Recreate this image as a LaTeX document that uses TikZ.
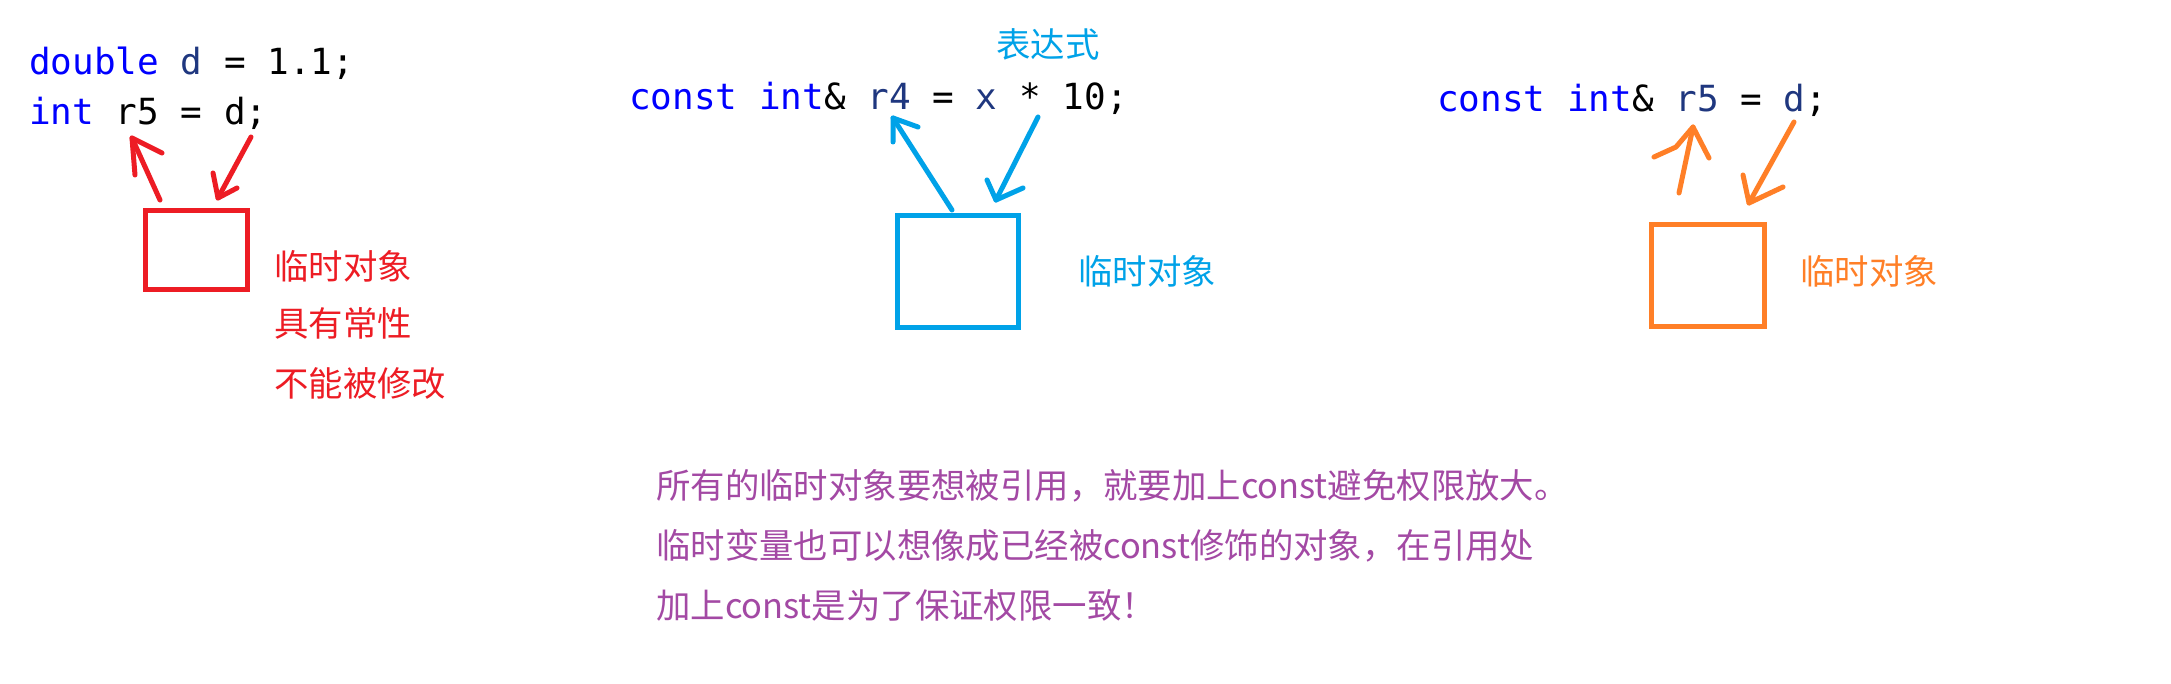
\documentclass[tikz,border=0pt]{standalone}
\usepackage{fontspec}
\setmonofont{DejaVu Sans Mono}
\newfontfamily\cjk{Noto Sans CJK SC}
\definecolor{kw}{HTML}{0000FF}
\definecolor{idc}{HTML}{1F377F}
\definecolor{redc}{HTML}{ED1C24}
\definecolor{bluec}{HTML}{00A2E8}
\definecolor{orangec}{HTML}{FF7F27}
\definecolor{purplec}{HTML}{A349A4}
\tikzset{
  code/.style={anchor=base west,inner sep=0pt,font=\ttfamily\fontsize{36}{40}\selectfont},
  lbl/.style={anchor=base west,inner sep=0pt,font=\cjk\fontsize{34.4}{40}\selectfont},
  tmpbox/.style={draw,line width=5pt,inner sep=0pt,outer sep=0pt},
  hand/.style={line width=5pt,line cap=round,line join=round},
}
\begin{document}
\begin{tikzpicture}[x=1pt,y=-1pt]
\useasboundingbox[fill=white] (0,0) rectangle (2171,684);
% left group
\node[code] (c1) at (29,75) {\textcolor{kw}{double} \textcolor{idc}{d} = 1.1;};
\node[code] (c2) at (29,125) {\textcolor{kw}{int} r5 = d;};
\node[tmpbox,redc,minimum width=102pt,minimum height=79pt] (rbox) at (196.5,250) {};
\node[lbl,text=redc] (rl1) at (274,280) {临时对象};
\node[lbl,text=redc] (rl2) at (274,337) {具有常性};
\node[lbl,text=redc] (rl3) at (274,396) {不能被修改};
\coordinate (ra1s) at (160,200); \coordinate (ra1t) at (132,138);
\coordinate (ra1a) at (135,175); \coordinate (ra1b) at (162,153);
\coordinate (ra2s) at (251,137); \coordinate (ra2t) at (218,198);
\coordinate (ra2a) at (213,173); \coordinate (ra2b) at (237,188);
\draw[hand,redc] (ra1s) -- (ra1t);
\draw[hand,redc] (ra1a) -- (ra1t) -- (ra1b);
\draw[hand,redc] (ra2s) -- (ra2t);
\draw[hand,redc] (ra2a) -- (ra2t) -- (ra2b);
% centre group
\node[lbl,text=bluec] (bexpr) at (996,58) {表达式};
\node[code] (c3) at (629,110) {\textcolor{kw}{const} \textcolor{kw}{int}\& \textcolor{idc}{r4} = \textcolor{idc}{x} * 10;};
\node[tmpbox,bluec,minimum width=121pt,minimum height=112pt] (bbox) at (958,271.5) {};
\node[lbl,text=bluec] (bl1) at (1078,285) {临时对象};
\coordinate (ba1s) at (952,210); \coordinate (ba1t) at (893,118);
\coordinate (ba1a) at (893,142); \coordinate (ba1b) at (918,127);
\coordinate (ba2s) at (1038,117); \coordinate (ba2t) at (996,200);
\coordinate (ba2a) at (987,180); \coordinate (ba2b) at (1023,188);
\draw[hand,bluec] (ba1s) -- (ba1t);
\draw[hand,bluec] (ba1a) -- (ba1t) -- (ba1b);
\draw[hand,bluec] (ba2s) -- (ba2t);
\draw[hand,bluec] (ba2a) -- (ba2t) -- (ba2b);
% right group
\node[code] (c4) at (1437,112) {\textcolor{kw}{const} \textcolor{kw}{int}\& \textcolor{idc}{r5} = \textcolor{idc}{d};};
\node[tmpbox,orangec,minimum width=113pt,minimum height=102pt] (obox) at (1708,275.5) {};
\node[lbl,text=orangec] (ol1) at (1800,285) {临时对象};
\coordinate (oa1s) at (1679,193); \coordinate (oa1t) at (1693,127);
\coordinate (oa1a) at (1654,157); \coordinate (oa1m) at (1676,147); \coordinate (oa1b) at (1709,158);
\coordinate (oa2s) at (1794,122); \coordinate (oa2t) at (1749,203);
\coordinate (oa2a) at (1743,175); \coordinate (oa2b) at (1783,187);
\draw[hand,orangec] (oa1s) -- (oa1t);
\draw[hand,orangec] (oa1a) -- (oa1m) -- (oa1t) -- (oa1b);
\draw[hand,orangec] (oa2s) -- (oa2t);
\draw[hand,orangec] (oa2a) -- (oa2t) -- (oa2b);
% bottom note
\node[lbl,text=purplec] (p1) at (656,498) {所有的临时对象要想被引用，就要加上const避免权限放大。};
\node[lbl,text=purplec] (p2) at (656,558) {临时变量也可以想像成已经被const修饰的对象，在引用处};
\node[lbl,text=purplec] (p3) at (656,618) {加上const是为了保证权限一致！};
\end{tikzpicture}
\end{document}
